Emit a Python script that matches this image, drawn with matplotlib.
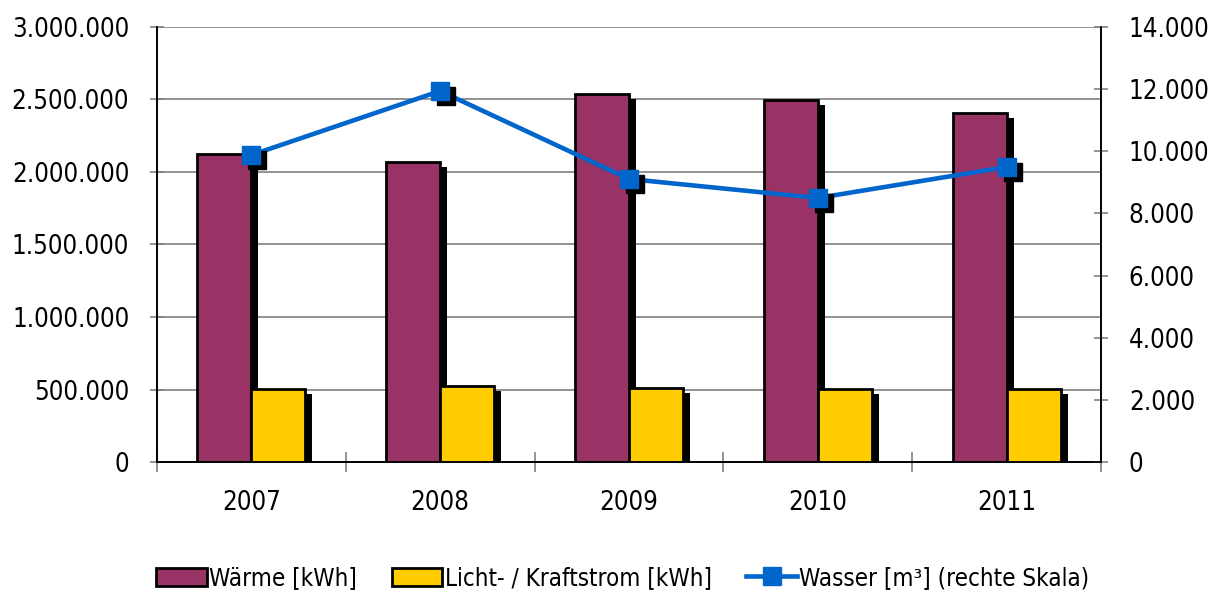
import numpy as np
import matplotlib
matplotlib.use("Agg")
import matplotlib.pyplot as plt
import matplotlib.patheffects as pe
import matplotlib.transforms as mtransforms
from matplotlib.ticker import FuncFormatter, FixedLocator
from matplotlib.lines import Line2D
from matplotlib.patches import Patch

plt.rcParams['font.family'] = ['DejaVu Sans']
plt.rcParams['font.stretch'] = 'condensed'

# --- Daten ---
jahre = ['2007', '2008', '2009', '2010', '2011']
waerme = [2124000, 2069000, 2538000, 2497000, 2407000]
strom = [503000, 524000, 510000, 503000, 503000]
wasser = [9880, 11940, 9108, 8497, 9494]

col_waerme = '#993366'
col_strom = '#FFCC00'
col_wasser = '#0066CC'


def punkt_format(v, pos):
    return f"{int(round(v)):,}".replace(',', '.')


fig = plt.figure(figsize=(12.14, 5.93), dpi=100)
ax = fig.add_axes([0.1293, 0.2209, 0.7776, 0.7336])
ax2 = ax.twinx()

x = np.arange(len(jahre))
w = 0.286
schatten = [pe.SimplePatchShadow(offset=(5, -3.5), shadow_rgbFace='black', alpha=1.0), pe.Normal()]

b1 = ax.bar(x - w / 2, waerme, w, color=col_waerme, edgecolor='black', linewidth=2,
            label='Wärme [kWh]', zorder=3)
b2 = ax.bar(x + w / 2, strom, w, color=col_strom, edgecolor='black', linewidth=2,
            label='Licht- / Kraftstrom [kWh]', zorder=3)
for r in list(b1) + list(b2):
    r.set_path_effects(schatten)

ax.set_ylim(0, 3000000)
ax.set_xlim(-0.5, len(jahre) - 0.5)
ax.yaxis.set_major_locator(FixedLocator(np.arange(0, 3000001, 500000)))
ax.yaxis.set_major_formatter(FuncFormatter(punkt_format))
ax.grid(axis='y', color='#808080', linewidth=1.2, zorder=0)
ax.set_axisbelow(True)

ax.set_xticks(x)
ax.set_xticklabels(jahre)
ax.set_xticks(np.arange(-0.5, len(jahre)), minor=True)
ax.tick_params(axis='x', which='major', length=0, pad=20, labelsize=18.5)
ax.tick_params(axis='x', which='minor', length=14, direction='inout', color='#808080', width=1.2)
ax.tick_params(axis='y', length=10, direction='inout', color='#808080', width=1.2, labelsize=18.5, pad=15)

# Wasser auf rechter Skala, Markerschatten leicht versetzt
ax2.plot(x, wasser, color=col_wasser, linewidth=3.3, zorder=4)
versatz = mtransforms.offset_copy(ax2.transData, fig=fig, x=6, y=-5, units='dots')
ax2.plot(x, wasser, linestyle='none', marker='s', markersize=13, color='black',
         transform=versatz, zorder=4)
ax2.plot(x, wasser, linestyle='none', marker='s', markersize=13, color=col_wasser,
         markeredgecolor=col_wasser, zorder=5)
ax2.set_ylim(0, 14000)
ax2.yaxis.set_major_locator(FixedLocator(np.arange(0, 14001, 2000)))
ax2.yaxis.set_major_formatter(FuncFormatter(punkt_format))
ax2.tick_params(axis='y', length=10, direction='inout', color='#808080', width=1.2, labelsize=18.5, pad=15)

for a in (ax, ax2):
    a.spines['top'].set_visible(False)
    for s in ('left', 'right', 'bottom'):
        a.spines[s].set_color('black')
        a.spines[s].set_linewidth(1.2)

handles = [
    Patch(facecolor=col_waerme, edgecolor='black', linewidth=2),
    Patch(facecolor=col_strom, edgecolor='black', linewidth=2),
    Line2D([0], [0], color=col_wasser, linewidth=3.3, marker='s', markersize=13),
]
labels = ['Wärme [kWh]', 'Licht- / Kraftstrom [kWh]', 'Wasser [m³] (rechte Skala)']
fig.legend(handles, labels, loc='center', bbox_to_anchor=(0.513, 0.025), ncol=3, frameon=False,
           fontsize=17.3, handlelength=2.1, handleheight=0.8, handletextpad=0.1, columnspacing=1.45)

fig.savefig('out.png', dpi=100)
